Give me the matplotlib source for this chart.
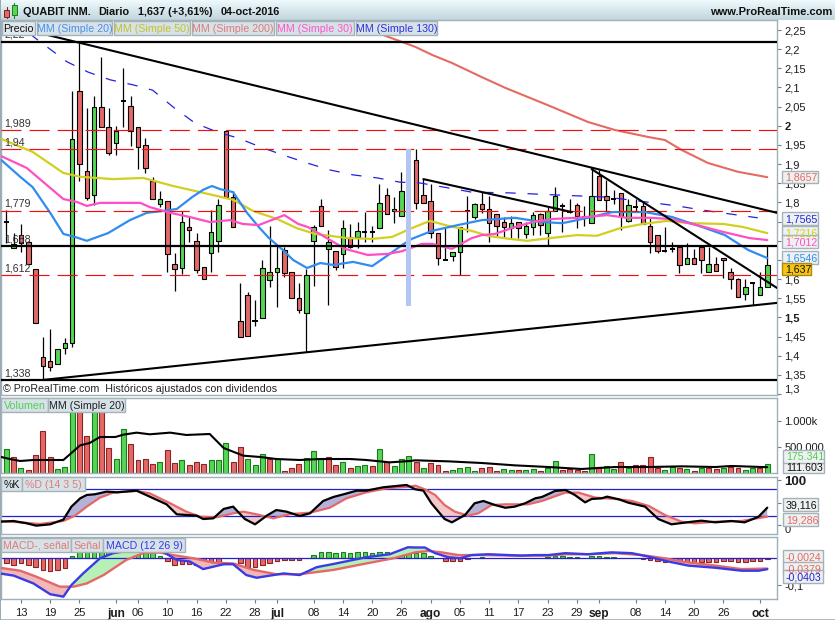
import numpy as np
import matplotlib
matplotlib.use('Agg')
import matplotlib.pyplot as plt
from matplotlib.patches import Rectangle

W = 835
H = 620
nan = float('nan')

opens = [1.749,1.681,1.715,1.697,1.627,1.397,1.386,1.379,1.420,1.433,
         2.091,1.882,1.820,2.049,1.997,1.955,2.065,2.052,1.997,1.950,
         1.856,1.796,1.804,1.640,1.629,1.736,1.700,1.632,1.668,1.700,
         1.987,1.814,1.491,1.559,1.491,1.499,1.598,1.619,1.676,1.619,
         1.551,1.512,1.700,1.791,1.679,1.673,1.666,1.710,1.710,1.723,
         1.723,1.733,1.820,1.778,1.765,nan,1.911,1.820,1.804,1.720,
         1.650,1.660,1.671,1.778,1.762,1.796,1.783,1.770,1.749,1.733,
         1.749,1.718,1.736,1.770,1.720,1.778,1.791,1.775,1.793,1.762,
         1.746,1.869,1.817,1.809,1.825,1.752,1.788,1.791,1.739,1.715,
         1.673,1.679,1.684,1.640,1.655,1.684,1.619,1.640,1.655,1.619,
         1.600,1.561,1.590,1.559,1.580]
highs = [1.780,1.720,1.744,1.700,1.627,1.449,1.470,1.418,1.446,2.091,
         2.216,2.046,2.078,2.180,2.046,2.000,2.151,2.078,1.997,1.968,
         1.867,1.830,1.804,1.668,1.778,1.762,1.720,1.632,1.780,1.809,
         1.987,1.830,1.590,1.566,1.546,1.650,1.739,1.689,1.684,1.619,
         1.590,1.627,1.741,1.809,1.728,1.673,1.754,1.744,1.749,1.775,
         1.739,1.848,1.838,1.814,1.880,nan,1.940,1.861,1.848,1.720,
         1.733,1.671,1.736,1.817,1.799,1.827,1.817,1.770,1.762,1.765,
         1.749,1.749,1.775,1.773,1.788,1.840,1.799,1.809,1.799,1.791,
         1.887,1.885,1.859,1.833,1.825,1.809,1.809,1.801,1.760,1.715,
         1.736,1.697,1.684,1.694,1.679,1.684,1.684,1.658,1.655,1.629,
         1.603,1.600,1.590,1.619,1.686]
lows = [1.694,1.681,1.671,1.640,1.486,1.337,1.360,1.379,1.405,1.423,
        1.856,1.807,1.793,1.997,1.924,1.924,1.997,1.947,1.887,1.877,
        1.809,1.788,1.619,1.569,1.613,1.697,1.616,1.600,1.619,1.671,
        1.814,1.736,1.449,1.452,1.478,1.499,1.580,1.527,1.606,1.551,
        1.512,1.410,1.582,1.739,1.533,1.624,1.629,1.681,1.681,1.697,
        1.697,1.733,1.770,1.746,1.765,nan,1.783,1.799,1.707,1.637,
        1.650,1.647,1.611,1.723,1.757,1.773,1.697,1.713,1.707,1.707,
        1.707,1.707,1.715,1.715,1.689,1.778,1.723,1.773,1.733,1.739,
        1.746,1.807,1.778,1.796,1.728,1.749,1.778,1.744,1.668,1.668,
        1.671,1.671,1.616,1.640,1.640,1.616,1.619,1.621,1.603,1.574,
        1.553,1.546,1.533,1.559,1.580]
closes = [1.749,1.692,1.694,1.640,1.486,1.373,1.371,1.418,1.433,1.966,
          1.900,1.812,2.049,1.997,1.929,1.987,2.065,1.987,1.945,1.890,
          1.809,1.809,1.666,1.627,1.749,1.728,1.624,1.600,1.723,1.793,
          1.814,1.736,1.449,1.452,1.491,1.629,1.619,1.629,1.616,1.551,
          1.520,1.611,1.736,1.739,1.697,1.632,1.733,1.684,1.726,1.723,
          1.723,1.799,1.770,1.783,1.830,nan,1.799,1.799,1.720,1.655,
          1.650,1.671,1.736,1.778,1.796,1.783,1.746,1.739,1.736,1.746,
          1.733,1.739,1.767,1.741,1.778,1.817,1.791,1.775,1.765,1.762,
          1.817,1.807,1.807,1.809,1.765,1.793,1.788,1.744,1.697,1.673,
          1.673,1.679,1.637,1.655,1.640,1.650,1.640,1.621,1.650,1.600,
          1.553,1.580,1.590,1.580,1.637]

sma20_x = [-0.7,1.9,3.6,6.0,7.8,9.4,11.0,13.9,16.9,19.2,21.4,23.3,25.4,26.9,28.1,29.2,31.0,32.9,34.5,35.9,37.8,39.2,41.1,42.9,44.7,47.4,50.0,52.2,54.1,55.4,58.2,61.7,65.0,69.5,73.2,76.0,79.5,82.8,87.3,91.0,95.1,98.2,101.4,104]
sma20_y = [1.911,1.867,1.840,1.773,1.718,1.710,1.700,1.720,1.754,1.773,1.778,1.783,1.814,1.833,1.843,1.835,1.827,1.773,1.736,1.707,1.676,1.650,1.629,1.642,1.637,1.645,1.634,1.663,1.689,1.705,1.726,1.741,1.754,1.760,1.749,1.746,1.760,1.775,1.775,1.762,1.736,1.715,1.676,1.655]
sma30_x = [-0.7,2.8,6,7.8,9.7,11,12.8,16,18.3,19.6,22.4,25.1,27.8,30.6,32.3,34.5,38,39.9,41.2,43.1,46.3,49.4,52.2,54.1,56.8,58.2,60.9,63.6,65,66.8,69.5,72,74.7,78,82.1,84.8,88,90.7,94.4,98,101.6,104]
sma30_y = [1.921,1.890,1.838,1.809,1.801,1.791,1.799,1.799,1.799,1.788,1.773,1.762,1.749,1.754,1.744,1.741,1.767,1.744,1.736,1.715,1.679,1.663,1.666,1.673,1.692,1.692,1.679,1.707,1.715,1.718,1.736,1.749,1.757,1.760,1.767,1.760,1.760,1.757,1.741,1.723,1.707,1.702]
sma50_x = [-0.7,3.6,7.8,10.1,14.6,18.7,22.8,26.5,31,33.7,37,39.7,42.2,46.7,50,52.7,55.4,57.9,60.4,63.6,65.8,68.8,71.2,73.4,78,80.7,83.9,87,90.3,93.4,98,100.7,104]
sma50_y = [1.966,1.932,1.877,1.867,1.861,1.864,1.843,1.827,1.807,1.778,1.757,1.733,1.718,1.707,1.705,1.710,1.733,1.752,1.739,1.726,1.713,1.705,1.700,1.705,1.715,1.713,1.733,1.744,1.752,1.746,1.744,1.736,1.720]
sma200_x = [49.7,51.5,55.9,58.2,60.9,65,68.2,74,79.5,83.2,87.7,90,92.3,95.9,100,104]
sma200_y = [2.255,2.237,2.206,2.185,2.164,2.127,2.099,2.054,2.010,1.989,1.971,1.963,1.937,1.903,1.880,1.866]
sma130_x = [3.2,4.3,8.3,11.2,14.2,17.3,20,23,25.8,28.8,31.7,34.7,37.8,41.1,44.2,47.4,50.7,53.8,56.5,60.4,63.6,68.8,74.7,82.1,88.4,91.7,95.2,98.9,102.7]
sma130_y = [2.240,2.224,2.167,2.140,2.120,2.107,2.093,2.046,2.007,1.984,1.968,1.945,1.924,1.903,1.885,1.872,1.864,1.853,1.851,1.838,1.827,1.825,1.820,1.814,1.799,1.791,1.780,1.770,1.760]

black_levels = [2.22, 1.6865, 1.338]
red_levels = [1.989, 1.94, 1.779, 1.612]
level_labels = [('2,22', 2.22), ('1,989', 1.989), ('1,94', 1.94), ('1,779', 1.779), ('1,688', 1.6865), ('1,612', 1.612), ('1,338', 1.338)]
trend_x = [(5.0, 105.33), (5.0, 105.33), (57.0, 77.3), (80.0, 105.33)]
trend_y = [(2.240, 1.773), (1.337, 1.538), (1.861, 1.775), (1.887, 1.577)]

vol_dir = 'GRGRRRRGGGRRGRRGGRRRRGRRGRRRGGGRRGGGRGRRRGGGRRGRGGRGRGGGRGRRRGGGGRRRGGRGGRGGRRRRGRGGRGRRRRGGRGRGRRGRRGGRG'
volume = [462,308,96,58,346,814,308,77,115,1900,
          1700,711,1600,1500,481,269,846,558,250,269,
          173,212,442,192,250,154,212,173,250,250,
          577,212,500,269,154,365,269,269,38,96,
          173,288,423,269,308,154,212,96,135,154,
          135,462,212,135,269,327,212,96,192,154,
          38,58,96,115,38,96,115,38,77,58,
          58,58,77,38,96,231,58,77,58,38,
          365,115,135,77,212,96,154,154,308,96,
          58,115,96,77,38,96,96,77,96,115,
          96,58,96,96,175.341]
vol_ma_x = [-0.9,0.5,1.9,3.7,7.8,10.1,11.4,12.8,14.9,16,17.8,19.6,22.4,24.6,27.8,29.7,32.4,34.7,36.9,40.1,42.9,47,49.2,52.4,55.2,55.9,60.4,65,69.5,74.1,78.6,83.2,87.8,92.3,96.9,99.1,104]
vol_ma_y = [314,269,231,250,250,532,577,692,692,737,776,744,776,731,750,481,333,308,269,250,269,269,250,205,231,244,224,192,147,115,77,115,115,128,115,135,111.6]

k_x = [-0.9,1.0,2.8,4.1,6.0,7.8,8.9,10.1,11,12.1,13.7,15.1,17.8,19.6,21.9,23.3,26,26.9,28.3,29.7,31,32.6,34,35.6,36.9,38.3,40.1,41.5,43.3,44.7,46.1,47.9,49.2,51.5,54.7,55.9,57,58.1,59.9,60.9,62.7,64,65.2,66.8,68.2,69.5,70.9,72.3,73.2,75,76.4,77.7,79.1,80,81.4,82.1,83.7,85,87.3,89.1,90.9,93.7,95,96.9,99.1,100.9,102.8,104]
k_y = [8,9.6,4.4,-0.8,2.2,12.6,41.5,60,67.4,68.9,74.8,73.3,77,63.7,46.6,24.4,21.5,14,15.5,36.3,41.5,14,2.2,21.5,34,30.3,20.7,26.6,54,62.9,68.9,77,77,84.4,89.6,80,77,48.9,14,6.6,23,48.9,54,45,39,41.5,48.9,60,62.9,76.3,78.5,67.4,51,58.5,60,63.7,57.8,50.3,41.5,14,2.2,8,10.3,6.6,9.6,6.6,19,39.1]
d_x = [-0.9,1.9,4.6,7.8,9.4,11,12.8,14.6,17.8,19.6,22.4,24.6,26.5,28.7,31,32.4,34.2,36.5,38.8,41.5,44.2,46.5,49.2,52,55.2,55.9,57.2,58.6,59.9,61.3,63.1,64.5,66.3,68.2,71.3,73.2,76.4,78.2,80.5,83.2,85.5,87.8,90,92.3,94.1,96.9,100.5,104]
d_y = [9.6,6.6,2.9,9.6,21.5,41.5,61.5,72.6,76.3,71,48.9,30.3,19,17.8,26.6,30.3,24.4,15.5,25,28,39,60,73.3,82.2,85.9,88,80,67.4,45,30.3,21.5,26.6,45,46.6,46.6,54,72.6,72.6,61.5,58.5,54,43,23,8,4.4,8,9.6,19.3]

macd_x = [-0.9,1,3.7,6,7.8,8.9,10.5,12.8,14.6,17.4,21,23.3,25.1,26.9,29.7,31,32.8,34.2,37.9,40.1,42.4,44.7,47.4,49.2,52.4,54.9,55.9,57.2,58.6,60.4,62,63.6,65.9,70.4,72.3,74.1,76.4,79.5,82.7,85.5,87.8,90.5,93.2,96.9,100.5,102.8,104]
macd_y = [-.056,-.064,-.093,-.133,-.142,-.099,-.056,0,.019,.031,.031,-.006,-.012,-.040,-.022,-.022,-.062,-.072,-.056,-.062,-.033,-.021,-.006,.004,.015,.041,.040,.040,.019,.004,0,.012,.015,.010,.012,.012,.019,.015,.022,.019,.006,-.012,-.027,-.035,-.046,-.046,-.0403]
signal_x = [-0.9,1.9,4.1,7.3,9.2,11,13.3,16.4,18.7,21,22.8,25.6,28.3,31,33.8,36.9,40.1,44.7,49.2,52.9,55.9,57.7,59.5,61.8,65,69.5,74.1,76.4,79.5,83.2,86.8,90,92.3,96.9,100.5,104]
signal_y = [-.035,-.046,-.068,-.105,-.105,-.093,-.062,-.006,.019,.021,.012,0,-.016,-.019,-.043,-.059,-.059,-.043,-.019,0,.022,.027,.022,.012,.012,.010,.010,.015,.015,.019,.012,0,-.012,-.027,-.040,-.0379]
hist = [-.019,-.025,-.019,-.025,-.031,-.043,-.046,-.042,-.035,.009,
        .037,.03,.04,.04,.035,.03,.04,.04,.04,.04,
        .027,.007,-.009,-.025,-.02,-.02,-.025,-.031,-.022,-.012,
        0,0,-.019,-.031,-.031,-.025,-.016,-.009,-.005,-.005,
        -.007,0,.011,.022,.022,.019,.022,.019,.022,.022,
        .019,.022,.022,.022,.025,.03,.019,.019,.007,0,
        -.009,-.011,-.009,-.004,0,.004,0,0,0,0,
        0,0,0,0,.004,.007,.007,.005,.005,0,
        .007,.007,.004,.004,0,0,0,-.004,-.006,-.011,
        -.014,-.014,-.015,-.015,-.015,-.015,-.014,-.012,-.009,-.009,
        -.012,-.012,-.009,-.009,-.0024]

date_pos = [2,6,10,15,18,22,26,30,34,37,42,46,50,54,58,62,66,70,74,78,81,86,90,94,98,103]
date_labels = ['13','19','25','jun','06','10','16','22','28','jul','08','14','20','26','ago','05','11','17','23','29','sep','08','14','20','26','oct']
months = ['jun','jul','ago','sep','oct']

price_ticks = [2.25,2.2,2.15,2.1,2.05,2,1.95,1.9,1.85,1.8,1.75,1.7,1.65,1.6,1.55,1.5,1.45,1.4,1.35,1.3]
price_labels = ['2,25','2,2','2,15','2,1','2,05','2','1,95','1,9','1,85','1,8','1,75','1,7','1,65','1,6','1,55','1,5','1,45','1,4','1,35','1,3']

C_UP = '#55d655'
C_DOWN = '#e46868'
C_UP_E = '#1d7a1d'
C_DOWN_E = '#8c2424'
C_BORDER = '#9fb0b8'
C_TEXT = '#1c1c1c'
C_20 = '#2f8cf0'
C_50 = '#d2cf1e'
C_200 = '#e46a62'
C_30 = '#ff4fc4'
C_130 = '#2222dd'
FS = 7.7

plt.rcParams['font.family'] = ['Liberation Sans', 'DejaVu Sans']
plt.rcParams['lines.scale_dashes'] = False
plt.rcParams['lines.solid_capstyle'] = 'round'

fig = plt.figure(figsize=(W/100, H/100), dpi=100, facecolor='white')

def panel(top, bottom, ymin, ymax):
    ax = fig.add_axes([1/W, 1-bottom/H, 776/W, (bottom-top)/H])
    ax.set_xlim(-0.724, 105.33)
    ax.set_ylim(ymin, ymax)
    for s in ax.spines.values():
        s.set_color(C_BORDER)
        s.set_linewidth(1)
    ax.yaxis.tick_right()
    ax.tick_params(axis='y', length=3, width=0.8, color='#6f7f88', labelsize=8.0, labelcolor=C_TEXT, pad=2.2)
    ax.set_xticks([])
    return ax

def box(x0, y0, x1, y1, label, color, fc='#d6e2e7', ec='#a5b3b9', size=FS, ha='center'):
    fig.add_artist(Rectangle((x0/W, 1-y1/H), (x1-x0)/W, (y1-y0)/H, transform=fig.transFigure, fc=fc, ec=ec, lw=1, zorder=5))
    tx = (x0+x1)/2 if ha == 'center' else x0+3
    fig.text(tx/W, 1-(y0+y1)/2/H, label, color=color, size=size, ha=ha, va='center_baseline', zorder=6)

def label(x, y, s, **kw):
    fig.text(x/W, 1-y/H, s, va='center_baseline', **kw)

# header band
head = fig.add_axes([0, 1-20/H, 1, 20/H])
head.imshow(np.linspace(0, 1, 20)[:, None], aspect='auto', cmap=matplotlib.colors.LinearSegmentedColormap.from_list('h', ['#eef9fc', '#c3d6de']))
head.axis('off')
fig.add_artist(Rectangle((0, 0), 1/W, 1, transform=fig.transFigure, fc='#9aaab2', ec='none', zorder=5))

fig.add_artist(Rectangle((4/W, 1-17/H), 5/W, 7/H, transform=fig.transFigure, fc=C_DOWN, ec='#7a2020', lw=0.7, zorder=6))
fig.add_artist(Rectangle((11.5/W, 1-15/H), 5/W, 10/H, transform=fig.transFigure, fc=C_UP, ec='#1d7a1d', lw=0.7, zorder=6))
fig.add_artist(plt.Line2D([14/W, 14/W], [1-18/H, 1-3/H], transform=fig.transFigure, color='#1d7a1d', lw=0.8, zorder=5))
fig.add_artist(plt.Line2D([6.5/W, 6.5/W], [1-18/H, 1-7/H], transform=fig.transFigure, color='#7a2020', lw=0.8, zorder=5))

label(23, 11, 'QUABIT INM.', color='#111111', size=7.8, weight='bold')
label(98, 11, 'Diario', color='#111111', size=7.8, weight='bold')
label(138, 11, '1,637 (+3,61%)', color='#111111', size=7.8, weight='bold')
label(221, 11, '04-oct-2016', color='#111111', size=7.8, weight='bold')
label(832, 11, 'www.ProRealTime.com', color='#111111', size=8.0, weight='bold', ha='right')

# price panel
ax = panel(20, 395, 1.2977, 2.2761)
idx = np.arange(len(opens))
o = np.array(opens)
h = np.array(highs)
l = np.array(lows)
c = np.array(closes)
ok = ~np.isnan(o)
ax.vlines(idx[ok], l[ok], h[ok], color='black', lw=0.9, zorder=2)
up = ok & (c > o)
down = ok & (c < o)
flat = ok & (c == o)
ax.bar(idx[up], (c-o)[up], bottom=o[up], width=0.62, color=C_UP, edgecolor='black', lw=0.8, zorder=2.2)
ax.bar(idx[down], (o-c)[down], bottom=c[down], width=0.62, color=C_DOWN, edgecolor='black', lw=0.8, zorder=2.2)
ax.hlines(o[flat], idx[flat]-0.36, idx[flat]+0.36, color='black', lw=1.4, zorder=2.2)

ax.plot(sma200_x, sma200_y, color=C_200, lw=1.5, zorder=3)
ax.plot(sma130_x, sma130_y, color=C_130, lw=0.9, ls=(0, (7.5, 8.5)), zorder=3)
ax.plot(sma50_x, sma50_y, color=C_50, lw=1.6, zorder=3)
ax.plot(sma20_x, sma20_y, color=C_20, lw=1.6, zorder=3)
ax.plot(sma30_x, sma30_y, color=C_30, lw=1.6, zorder=3.1)

for lv in red_levels:
    ax.axhline(lv, color='#f01010', lw=0.85, ls=(0, (14.4, 5.8)), zorder=3.5)
for lv in black_levels:
    ax.axhline(lv, color='black', lw=1.6, zorder=4)
for tx, ty in zip(trend_x, trend_y):
    ax.plot(tx, ty, color='black', lw=1.5, zorder=4)
ax.bar([55], [0.410], bottom=[1.530], width=0.68, color='#b3c6f3', zorder=4.5)
for s, lv in level_labels:
    ax.text(-0.3, lv+0.004, s, color='#333333', size=FS, va='bottom', zorder=4)

ax.set_yticks(price_ticks)
ax.set_yticklabels(price_labels)
for t, s in zip(ax.get_yticklabels(), price_labels):
    if s == '2' or s == '1,5':
        t.set_fontweight('bold')
    if s == '1,3':
        t.set_verticalalignment('bottom')

label(3, 388.5, '\u00a9 ProRealTime.com  Hist\u00f3ricos ajustados con dividendos', color='#222222', size=FS)

box(2, 21, 35, 35, 'Precio', '#111111', fc='#dfe9ed')
box(37, 21, 112, 35, 'MM (Simple 20)', '#4a90ea')
box(114, 21, 190, 35, 'MM (Simple 50)', '#c4c22a')
box(192, 21, 274, 35, 'MM (Simple 200)', '#df7c78')
box(276, 21, 354, 35, 'MM (Simple 30)', '#ff55c8')
box(356, 21, 437, 35, 'MM (Simple 130)', '#3030e0')

# volume panel
vx = panel(398, 473, 0, 1442)
vcolors = [C_UP if d == 'G' else C_DOWN for d in vol_dir]
vedges = [C_UP_E if d == 'G' else C_DOWN_E for d in vol_dir]
vx.bar(idx, volume, width=0.68, color=vcolors, edgecolor=vedges, lw=0.8, zorder=2)
vx.plot(vol_ma_x, vol_ma_y, color='black', lw=1.5, zorder=3)
vx.set_yticks([1000, 500])
vx.set_yticklabels(['1.000k', '500.000'])
box(1, 398, 48, 412, 'Volumen', '#55cc55')
box(48, 398, 125, 412, 'MM (Simple 20)', '#222222')

# stochastic panel
sx = panel(477, 534, -19.3, 107.3)
grid = np.linspace(-0.9, 104, 1500)
ki = np.interp(grid, k_x, k_y)
di = np.interp(grid, d_x, d_y)
sx.fill_between(grid, ki, di, where=ki >= di, color='#b4b2d8', lw=0, zorder=1.5)
sx.fill_between(grid, ki, di, where=ki < di, color='#f4c8c8', lw=0, zorder=1.5)
sx.axhline(80, color='#2222cc', lw=0.9, zorder=2)
sx.axhline(20, color='#2222cc', lw=0.9, zorder=2)
sx.plot(d_x, d_y, color=C_DOWN, lw=1.6, zorder=3)
sx.plot(k_x, k_y, color='black', lw=1.6, zorder=3)
sx.set_yticks([100, 50, 0])
sx.set_yticklabels(['100', '', '0'])
sx.get_yticklabels()[0].set_fontweight('bold')
sx.get_yticklabels()[0].set_fontsize(9.5)
sx.get_yticklabels()[2].set_verticalalignment('top')
box(1, 477, 22, 491, '%K', '#111111')
box(22, 477, 85, 491, '%D (14 3 5)', '#df7c78')

# macd panel
mx = panel(537, 599, -0.1507, 0.0789)
mi = np.interp(grid, macd_x, macd_y)
si = np.interp(grid, signal_x, signal_y)
hist_arr = np.array(hist)
hc = [C_UP if v > 0 else C_DOWN for v in hist]
he = [C_UP_E if v > 0 else C_DOWN_E for v in hist]
keep = hist_arr != 0
mx.bar(idx[keep], hist_arr[keep], width=0.62, color=np.array(hc)[keep], edgecolor=np.array(he)[keep], lw=0.8, zorder=1.2)
mx.fill_between(grid, mi, si, where=mi >= si, color='#b6f0b6', lw=0, zorder=1.5)
mx.fill_between(grid, mi, si, where=mi < si, color='#f2b8b8', lw=0, zorder=1.5)
mx.axhline(0, color='#2222cc', lw=0.9, zorder=2)
mx.plot(signal_x, signal_y, color=C_DOWN, lw=1.7, zorder=3)
mx.plot(macd_x, macd_y, color='#3a3ae6', lw=1.7, zorder=3)
mx.set_yticks([-0.1])
mx.set_yticklabels(['-0,1'])
mx.set_xticks(date_pos)
mx.set_xticklabels(date_labels)
mx.tick_params(axis='x', length=3, width=0.8, color='#6f7f88', labelsize=8.0, labelcolor=C_TEXT, pad=3.5)
for t, s in zip(mx.get_xticklabels(), date_labels):
    if s in months:
        t.set_fontweight('bold')
        t.set_fontsize(8.6)
box(1, 538, 71, 552, 'MACD-, se\u00f1al', '#df7c78')
box(71, 538, 103, 552, 'Se\u00f1al', '#df7c78')
box(103, 538, 185, 552, 'MACD (12 26 9)', '#3a3ae6')

fig.add_artist(plt.Line2D([0, 1], [0.5/H, 0.5/H], transform=fig.transFigure, color=C_BORDER, lw=1.2))

# last value boxes
C_BOX = '#eef1f2'
box(782, 171, 818, 183, '1,8657', C_200, fc=C_BOX, ha='left')
box(782, 212, 818, 225, '1,7565', C_130, fc=C_BOX, ha='left')
box(782, 226, 818, 238, '1,7216', C_50, fc=C_BOX, ha='left')
box(782, 235, 818, 248, '1,7012', C_30, fc=C_BOX, ha='left')
box(782, 251, 818, 264, '1,6546', C_20, fc=C_BOX, ha='left')
box(782, 263, 811, 275, '1,637', '#111111', fc='#f6c516', ec='#b08a10', ha='left')
box(783, 461, 824, 473, '111.603', '#111111', fc=C_BOX, ha='left')
box(783, 450, 824, 463, '175.341', '#55cc55', fc=C_BOX, ha='left')
box(783, 498, 818, 511, '39,116', '#111111', fc=C_BOX, ha='left')
box(783, 513, 818, 526, '19,286', C_200, fc=C_BOX, ha='left')
box(783, 550, 823, 563, '-0,0024', C_200, fc=C_BOX, ha='left')
box(783, 562, 823, 574, '-0,0379', C_200, fc=C_BOX, ha='left')
box(783, 570, 823, 583, '-0,0403', C_130, fc=C_BOX, ha='left')

fig.savefig('out.png', dpi=100, facecolor=fig.get_facecolor())
